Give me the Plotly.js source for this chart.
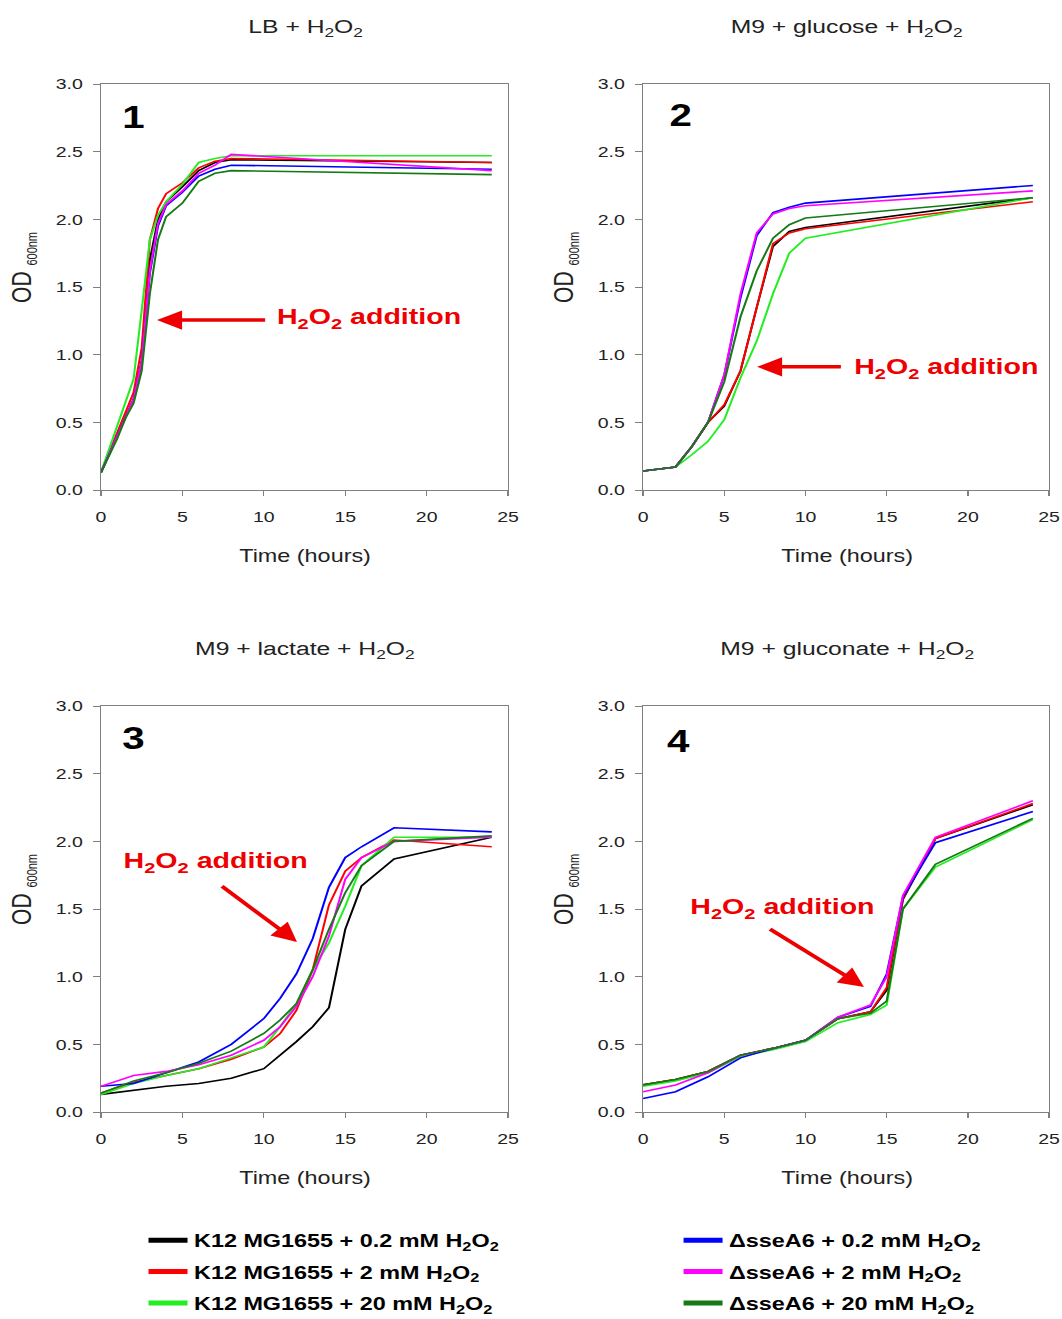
<!DOCTYPE html>
<html>
<head>
<meta charset="utf-8">
<script src="https://cdn.plot.ly/plotly-3.0.1.min.js"></script>
<style>
  html, body { margin: 0; padding: 0; background: #fff; overflow: hidden; }
  #plot { width: 817px; height: 1319px; transform: scaleX(1.3); transform-origin: 0 0; }
</style>
</head>
<body>
<div id="plot"></div>
<script>
// ---------------- DATA ----------------
const seriesNames = [
  'K12 MG1655 + 0.2 mM H<sub>2</sub>O<sub>2</sub>',
  'K12 MG1655 + 2 mM H<sub>2</sub>O<sub>2</sub>',
  'K12 MG1655 + 20 mM H<sub>2</sub>O<sub>2</sub>',
  '\u0394sseA6 + 0.2 mM H<sub>2</sub>O<sub>2</sub>',
  '\u0394sseA6 + 2 mM H<sub>2</sub>O<sub>2</sub>',
  '\u0394sseA6 + 20 mM H<sub>2</sub>O<sub>2</sub>'
];
const seriesColors = ['#000000', '#ff0000', '#22ee22', '#0000ff', '#ff00ff', '#157a15'];

const panelTitles = [
  'LB + H<sub>2</sub>O<sub>2</sub>',
  'M9 + glucose + H<sub>2</sub>O<sub>2</sub>',
  'M9 + lactate + H<sub>2</sub>O<sub>2</sub>',
  'M9 + gluconate + H<sub>2</sub>O<sub>2</sub>'
];
const panelNumbers = ['1', '2', '3', '4'];

// Panel 1: LB
const timeLB = [0, 1, 1.5, 2, 2.5, 3, 3.5, 4, 5, 6, 7, 8, 24];
const lbK12_02  = [0.13, 0.40, 0.55, 0.67, 0.95, 1.70, 2.00, 2.13, 2.24, 2.36, 2.42, 2.44, 2.42];
const lbK12_2   = [0.13, 0.42, 0.58, 0.72, 1.05, 1.85, 2.08, 2.19, 2.27, 2.38, 2.43, 2.45, 2.42];
const lbK12_20  = [0.13, 0.47, 0.66, 0.82, 1.33, 1.85, 2.03, 2.13, 2.26, 2.42, 2.45, 2.47, 2.47];
const lbSse_02  = [0.13, 0.40, 0.55, 0.67, 0.95, 1.60, 1.95, 2.10, 2.20, 2.32, 2.37, 2.40, 2.37];
const lbSse_2   = [0.13, 0.40, 0.55, 0.67, 0.95, 1.62, 1.97, 2.11, 2.21, 2.34, 2.40, 2.48, 2.36];
const lbSse_20  = [0.13, 0.38, 0.53, 0.64, 0.88, 1.45, 1.85, 2.02, 2.12, 2.28, 2.34, 2.36, 2.33];

// Panel 2: M9 + glucose
const timeGlc = [0, 2, 3, 4, 5, 6, 7, 8, 9, 10, 24];
const glcK12_02 = [0.14, 0.17, 0.32, 0.50, 0.62, 0.88, 1.35, 1.80, 1.91, 1.94, 2.16];
const glcK12_2  = [0.14, 0.17, 0.32, 0.50, 0.63, 0.88, 1.35, 1.82, 1.90, 1.93, 2.13];
const glcK12_20 = [0.14, 0.17, 0.26, 0.36, 0.52, 0.83, 1.10, 1.45, 1.75, 1.86, 2.16];
const glcSse_02 = [0.14, 0.17, 0.32, 0.50, 0.85, 1.42, 1.88, 2.05, 2.09, 2.12, 2.25];
const glcSse_2  = [0.14, 0.17, 0.32, 0.50, 0.85, 1.45, 1.90, 2.04, 2.08, 2.10, 2.21];
const glcSse_20 = [0.14, 0.17, 0.32, 0.50, 0.80, 1.28, 1.62, 1.86, 1.96, 2.01, 2.16];

// Panel 3: M9 + lactate
const timeLac = [0, 2, 4, 6, 8, 10, 11, 12, 13, 14, 15, 16, 18, 24];
const lacK12_02 = [0.13, 0.16, 0.19, 0.21, 0.25, 0.32, 0.42, 0.52, 0.63, 0.77, 1.35, 1.67, 1.87, 2.03];
const lacK12_2  = [0.14, 0.22, 0.27, 0.32, 0.39, 0.48, 0.58, 0.75, 1.05, 1.53, 1.78, 1.88, 2.01, 1.96];
const lacK12_20 = [0.13, 0.21, 0.27, 0.32, 0.40, 0.48, 0.63, 0.80, 1.05, 1.25, 1.52, 1.82, 2.03, 2.03];
const lacSse_02 = [0.19, 0.21, 0.29, 0.37, 0.50, 0.69, 0.84, 1.02, 1.28, 1.66, 1.88, 1.96, 2.10, 2.07];
const lacSse_2  = [0.19, 0.27, 0.30, 0.35, 0.42, 0.53, 0.63, 0.78, 1.00, 1.30, 1.72, 1.88, 2.00, 2.03];
const lacSse_20 = [0.14, 0.23, 0.29, 0.36, 0.45, 0.58, 0.68, 0.80, 1.05, 1.35, 1.62, 1.82, 2.00, 2.04];

// Panel 4: M9 + gluconate
const timeGln = [0, 2, 4, 6, 8, 10, 12, 14, 15, 16, 18, 24];
const glnK12_02 = [0.20, 0.24, 0.30, 0.42, 0.47, 0.53, 0.69, 0.74, 0.90, 1.57, 2.02, 2.27];
const glnK12_2  = [0.20, 0.24, 0.30, 0.42, 0.47, 0.53, 0.69, 0.74, 0.92, 1.58, 2.02, 2.28];
const glnK12_20 = [0.19, 0.23, 0.29, 0.41, 0.46, 0.52, 0.66, 0.72, 0.79, 1.50, 1.81, 2.16];
const glnSse_02 = [0.10, 0.15, 0.26, 0.40, 0.47, 0.53, 0.70, 0.78, 1.02, 1.59, 1.99, 2.22];
const glnSse_2  = [0.15, 0.20, 0.29, 0.42, 0.47, 0.53, 0.70, 0.79, 1.00, 1.60, 2.03, 2.30];
const glnSse_20 = [0.20, 0.24, 0.30, 0.42, 0.47, 0.53, 0.69, 0.73, 0.82, 1.50, 1.83, 2.17];

// H2O2 addition arrows: tip [time, OD], tail [time, OD], label centre [time, OD]
const arrowTips   = [[3.44, 1.256], [7.02, 0.91], [12.04, 1.256], [13.6, 0.924]];
const arrowTails  = [[10.2, 1.256], [12.3, 0.91], [7.31, 1.678], [7.70, 1.36]];
const arrowLabels = [[16.5, 1.27], [18.7, 0.90], [7.09, 1.845], [8.56, 1.51]];
const numberPos   = [[1.97, 2.75], [2.34, 2.77], [1.97, 2.76], [2.22, 2.74]];

// ---------------- BUILD ----------------
const FONT = 'Liberation Sans, Arial, sans-serif';
const panels = [
  { t: timeLB,  ys: [lbK12_02, lbK12_2, lbK12_20, lbSse_02, lbSse_2, lbSse_20] },
  { t: timeGlc, ys: [glcK12_02, glcK12_2, glcK12_20, glcSse_02, glcSse_2, glcSse_20] },
  { t: timeLac, ys: [lacK12_02, lacK12_2, lacK12_20, lacSse_02, lacSse_2, lacSse_20] },
  { t: timeGln, ys: [glnK12_02, glnK12_2, glnK12_20, glnSse_02, glnSse_2, glnSse_20] }
];
const axSuffix = ['', '2', '3', '4'];
const W = 1062, H = 1319;
const xDomL = [101 / W, 508 / W], xDomR = [643 / W, 1049 / W];
const yDomT = [1 - 490 / H, 1 - 84 / H], yDomB = [1 - 1112 / H, 1 - 706 / H];
const xDoms = [xDomL, xDomR, xDomL, xDomR];
const yDoms = [yDomT, yDomT, yDomB, yDomB];

const traces = [];
panels.forEach((p, pi) => {
  const s = axSuffix[pi];
  p.ys.forEach((y, si) => {
    traces.push({
      x: p.t, y: y, type: 'scatter', mode: 'lines',
      xaxis: 'x' + s, yaxis: 'y' + s,
      line: { color: seriesColors[si], width: 1.6 },
      showlegend: false, hoverinfo: 'skip'
    });
  });
});
// legend entries (thick samples)
seriesNames.forEach((n, si) => {
  traces.push({
    x: [null], y: [null], type: 'scatter', mode: 'lines',
    xaxis: 'x', yaxis: 'y', name: n, legendgroup: 'g' + si,
    line: { color: seriesColors[si], width: 5 },
    legend: si < 3 ? 'legend' : 'legend2',
    showlegend: true, hoverinfo: 'skip'
  });
});

const legendBase = {
  y: 1 - 1222 / H, xanchor: 'left', yanchor: 'top',
  font: { family: FONT, size: 18, color: '#000', weight: 'bold' },
  bgcolor: 'rgba(0,0,0,0)', itemwidth: 30, traceorder: 'grouped', tracegroupgap: 5
};

const layout = {
  width: 817, height: 1319,
  margin: { l: 0, r: 0, t: 0, b: 0, autoexpand: false },
  paper_bgcolor: '#ffffff', plot_bgcolor: '#ffffff',
  font: { family: FONT, color: '#222', size: 15 },
  annotations: [],
  legend: Object.assign({}, legendBase, { x: 142 / W }),
  legend2: Object.assign({}, legendBase, { x: 677 / W })
};

for (let i = 0; i < 4; i++) {
  const s = axSuffix[i];
  layout['xaxis' + s] = {
    domain: xDoms[i], anchor: 'y' + s, range: [0, 25], dtick: 5, tick0: 0,
    showgrid: false, zeroline: false, showline: true, mirror: true,
    linecolor: '#808080', linewidth: 1, ticks: 'outside', ticklen: 5,
    tickcolor: '#808080', tickfont: { family: FONT, size: 15, color: '#222' },
    ticklabelstandoff: 8, fixedrange: true, automargin: false
  };
  layout['yaxis' + s] = {
    domain: yDoms[i], anchor: 'x' + s, range: [0, 3], dtick: 0.5, tick0: 0,
    tickformat: '.1f',
    showgrid: false, zeroline: false, showline: true, mirror: true,
    linecolor: '#808080', linewidth: 1, ticks: 'outside', ticklen: 5,
    tickcolor: '#808080', tickfont: { family: FONT, size: 15, color: '#222' },
    ticklabelstandoff: 5, fixedrange: true, automargin: false
  };
  const xr = 'x' + s, yr = 'y' + s;
  // panel title
  layout.annotations.push({
    text: panelTitles[i], xref: 'paper', yref: 'paper',
    x: i % 2 === 0 ? 305 / W : 847 / W, y: i < 2 ? 1 - 28 / H : 1 - 650 / H,
    showarrow: false, xanchor: 'center', yanchor: 'middle',
    font: { family: FONT, size: 19, color: '#222' }
  });
  // x axis title
  layout.annotations.push({
    text: 'Time (hours)', xref: 'paper', yref: 'paper',
    x: i % 2 === 0 ? 305 / W : 847 / W, y: i < 2 ? 1 - 556 / H : 1 - 1178 / H,
    showarrow: false, xanchor: 'center', yanchor: 'middle',
    font: { family: FONT, size: 18, color: '#222' }
  });
  // y axis title
  layout.annotations.push({
    text: 'OD <sub><span style="font-size:11px">600nm</span></sub>', xref: 'paper', yref: 'paper',
    x: i % 2 === 0 ? 22 / W : 564 / W, y: i < 2 ? 1 - 267 / H : 1 - 889 / H,
    showarrow: false, xanchor: 'center', yanchor: 'middle', textangle: -90,
    font: { family: FONT, size: 21, color: '#222' }
  });
  // panel number
  layout.annotations.push({
    text: '<b>' + panelNumbers[i] + '</b>', xref: xr, yref: yr,
    x: numberPos[i][0], y: numberPos[i][1], showarrow: false,
    xanchor: 'center', yanchor: 'middle',
    font: { family: FONT, size: 31, color: '#000' }
  });
  // arrow
  layout.annotations.push({
    text: '', xref: xr, yref: yr, axref: xr, ayref: yr,
    x: arrowTips[i][0], y: arrowTips[i][1],
    ax: arrowTails[i][0], ay: arrowTails[i][1],
    showarrow: true, arrowhead: 2, arrowsize: 1.1, arrowwidth: 3.5,
    arrowcolor: '#ee0000', standoff: 0, startstandoff: 0
  });
  // arrow label
  layout.annotations.push({
    text: '<b>H<sub>2</sub>O<sub>2</sub> addition</b>', xref: xr, yref: yr,
    x: arrowLabels[i][0], y: arrowLabels[i][1], showarrow: false,
    xanchor: 'center', yanchor: 'middle',
    font: { family: FONT, size: 22, color: '#ee0000' }
  });
}

Plotly.newPlot('plot', traces, layout, { staticPlot: true, displayModeBar: false });
</script>
</body>
</html>
